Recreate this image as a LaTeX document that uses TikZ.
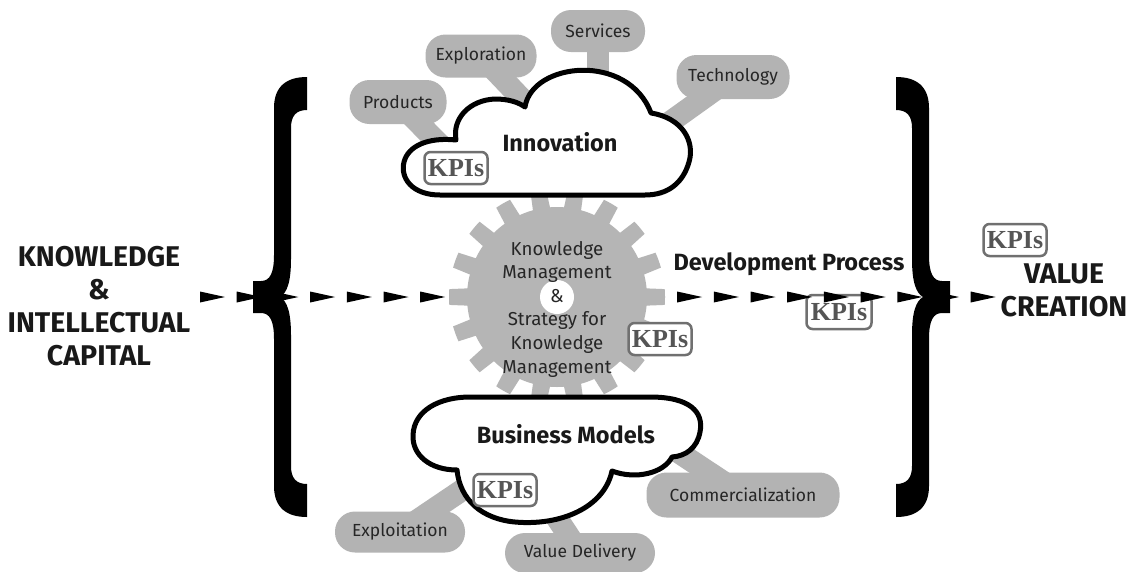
\documentclass[tikz,border=0pt]{standalone}
\usepackage{fontspec}
\setmainfont{Fira Sans}
\newfontfamily\kpifont{Liberation Serif}
\definecolor{bubgray}{HTML}{B3B3B3}
\definecolor{geargray}{HTML}{B5B5B5}
\definecolor{kpiframe}{HTML}{707070}
\definecolor{kpitext}{HTML}{555555}
\pgfdeclarelayer{back}
\pgfsetlayers{back,main}
\tikzset{
  lbrace/.pic={
    \fill (307,77) .. controls (287,77) and (274,86) .. (274,108)
      -- (274,255) .. controls (274,273) and (270,281) .. (261,281)
      -- (253,281) -- (253,313) -- (261,313)
      .. controls (270,313) and (274,321) .. (274,339)
      -- (274,486) .. controls (274,508) and (287,517) .. (307,517)
      -- (307,484) .. controls (296,484) and (291,478) .. (291,466)
      -- (291,335) .. controls (291,312) and (287,301) .. (280,297)
      .. controls (287,293) and (291,282) .. (291,259)
      -- (291,128) .. controls (291,116) and (296,110) .. (307,110) -- cycle;
  }
}
\begin{document}
\begin{tikzpicture}[x=1pt,y=-1pt,
  bubble/.style={fill=bubgray, rounded corners=20pt, inner sep=0pt, font=\fontsize{17.5}{20}\selectfont, text=black!85},
  stem/.style={draw=bubgray, line width=22pt},
  kpi/.style={draw=kpiframe, line width=2.5pt, rounded corners=6pt, fill=white, inner sep=0pt,
    minimum width=63pt, minimum height=32pt, text=kpitext, font=\kpifont\bfseries\fontsize{26}{26}\selectfont},
  cloud/.style={draw=black, line width=5pt, fill=white, line join=round},
  title/.style={font=\bfseries\fontsize{28.5}{33}\selectfont, align=center, text=black!90},
  cloudtitle/.style={font=\bfseries\fontsize{23.5}{26}\selectfont, text=black!90},
  flowtip/.style={fill=black}
]
\useasboundingbox (0,0) rectangle (1140,571);

% bubbles
\node[bubble, minimum width=97pt, minimum height=44pt] (prod) at (398,102) {Products};
\node[bubble, minimum width=111pt, minimum height=43pt] (expl) at (481,56) {Exploration};
\node[bubble, minimum width=94pt, minimum height=42pt] (serv) at (598,31) {Services};
\node[bubble, minimum width=113pt, minimum height=44pt] (tech) at (733,77) {Technology};
\node[bubble, minimum width=130pt, minimum height=41pt] (exploit) at (400,532) {Exploitation};
\node[bubble, minimum width=150pt, minimum height=40pt] (vdel) at (580,553) {Value Delivery};
\node[bubble, minimum width=193pt, minimum height=45pt] (comm) at (743,495) {Commercialization};

% cloud anchor points
\coordinate (iprod) at (450,155);
\coordinate (iexpl) at (540,118);
\coordinate (iserv) at (598,100);
\coordinate (itech) at (645,140);
\coordinate (bexpl) at (480,478);
\coordinate (bval) at (545,500);
\coordinate (bcom) at (660,440);

\begin{pgfonlayer}{back}
\fill[white] (0,0) rectangle (1140,571);
% KPIs under the flow arrows
\node[kpi, minimum width=65pt, minimum height=34pt] (kpidev) at (839,312) {KPIs};
% flow arrows
\foreach \k in {0,...,21}{
  \fill[flowtip] ({200+36.7*\k},291.5) -- ++(25,5.5) -- ++(-25,5.5) -- cycle;
}
% gear
\fill[geargray, shift={(557,297)}] (-10:90)
  \foreach \a in {0,20,...,340}{
    arc[start angle=\a-10, end angle=\a-5.5, radius=90]
    -- (\a-4.2:108) arc[start angle=\a-4.2, end angle=\a+4.2, radius=108]
    -- (\a+5.5:90) arc[start angle=\a+5.5, end angle=\a+10, radius=90]
  } -- cycle;
\fill[white] (557,297) circle[radius=17pt];
% stems
\draw[stem] (prod.center) -- (iprod);
\draw[stem] (expl.center) -- (iexpl);
\draw[stem] (serv.center) -- (iserv);
\draw[stem] (tech.center) -- (itech);
\draw[stem] (exploit.center) -- (bexpl);
\draw[stem] (vdel.center) -- (bval);
\draw[stem] (comm.center) -- (bcom);
\end{pgfonlayer}

\node[align=center, text=black!85, font=\fontsize{18.7}{23.6}\selectfont] (gear) at (557,309)
  {Knowledge\\Management\\\&\\Strategy for\\Knowledge\\Management};

% Innovation cloud
\path[cloud] (440,195) .. controls (412,195) and (400,178) .. (404,162)
  .. controls (408,146) and (428,137) .. (456,140)
  .. controls (452,118) and (470,100) .. (495,99)
  .. controls (508,99) and (518,102) .. (525,107)
  .. controls (532,62) and (628,52) .. (651,113)
  .. controls (683,118) and (695,142) .. (689,162)
  .. controls (683,183) and (668,195) .. (645,195) -- cycle;
\node[cloudtitle] (innov) at (560,142) {Innovation};
\node[kpi] (kpiinnov) at (456,168) {KPIs};

% Business Models cloud
\path[cloud] (470,397) -- (650,397) .. controls (690,397) and (704,412) .. (700,432)
  .. controls (697,448) and (686,456) .. (672,457)
  .. controls (664,473) and (636,480) .. (612,471)
  .. controls (604,508) and (560,526) .. (515,522)
  .. controls (482,519) and (460,500) .. (457,470)
  .. controls (430,470) and (412,455) .. (413,435)
  .. controls (414,410) and (440,397) .. (470,397) -- cycle;
\node[cloudtitle] (bm) at (566,434) {Business Models};
\node[kpi] (kpibm) at (505,490) {KPIs};

\node[kpi] (kpigear) at (660,339) {KPIs};

% braces
\pic {lbrace};
\pic[xscale=-1] at (1203,0) {lbrace};

% texts
\node[title] (kic) at (99,306) {KNOWLEDGE\\\&\\INTELLECTUAL\\CAPITAL};
\node[title, font=\bfseries\fontsize{28.5}{33}\selectfont] (vc) at (1064,290) {VALUE\\CREATION};
\node[kpi] (kpivc) at (1015,240) {KPIs};
\node[cloudtitle] (dev) at (789,264) {Development Process};
\end{tikzpicture}
\end{document}
